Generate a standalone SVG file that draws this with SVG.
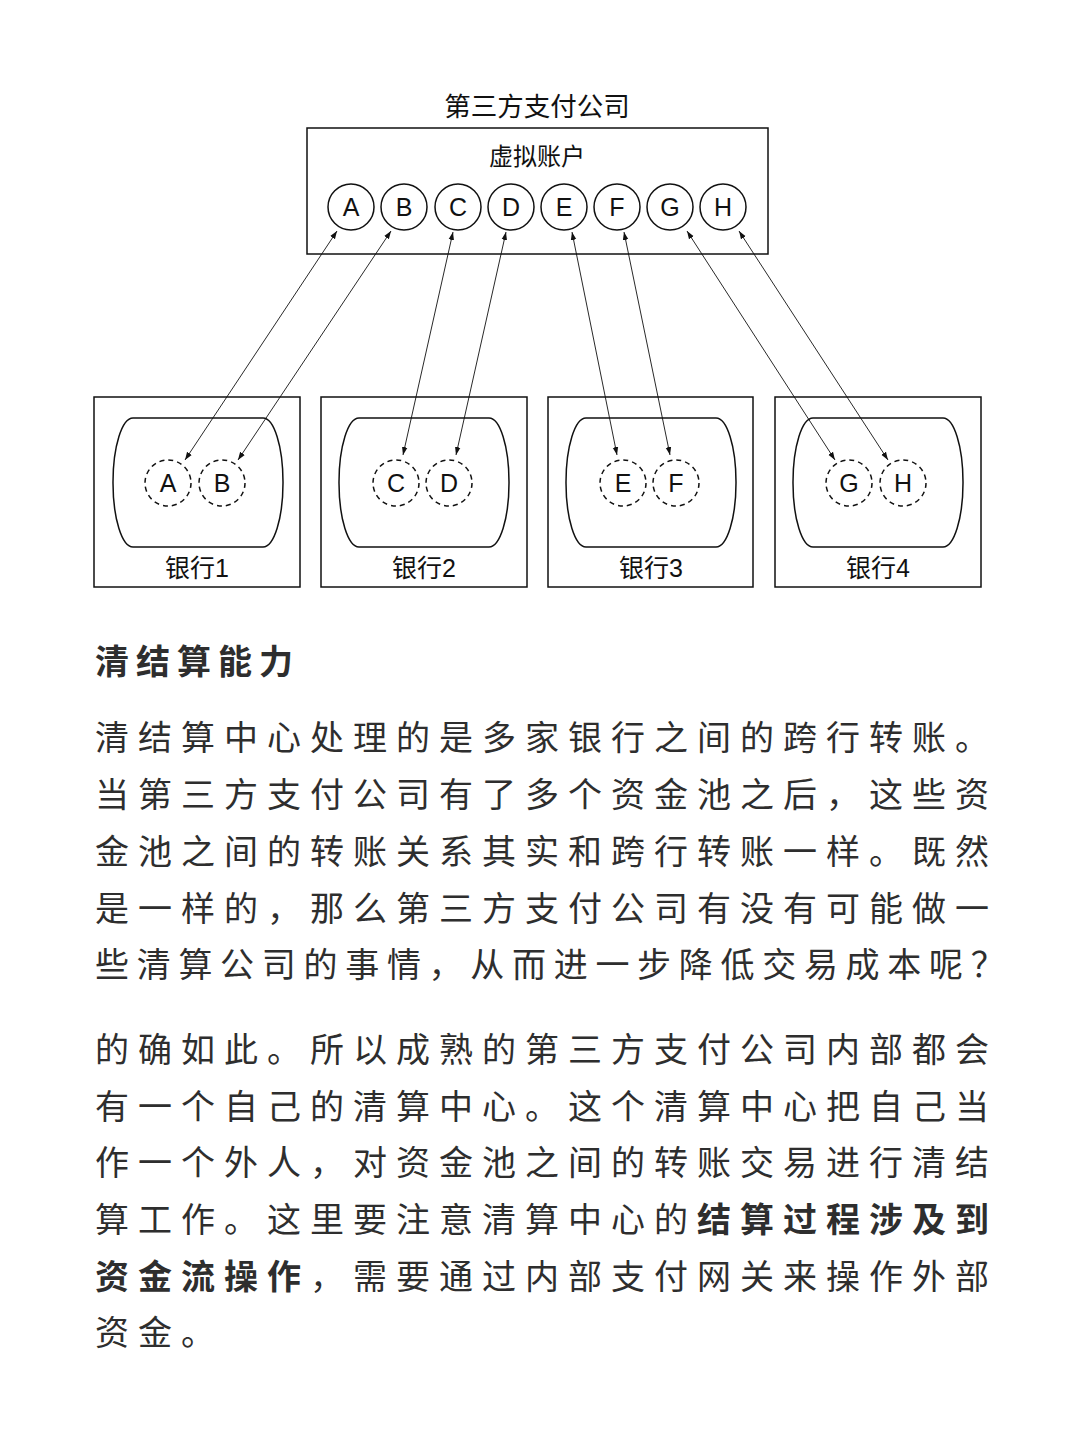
<svg xmlns="http://www.w3.org/2000/svg" width="1080" height="1435" viewBox="0 0 1080 1435">
<style>
.box{fill:none;stroke:#111;stroke-width:1.5}
.vc{fill:#fff;stroke:#111;stroke-width:1.5}
.dc{fill:none;stroke:#111;stroke-width:1.5;stroke-dasharray:5 4}
.dlabel{font-family:"Liberation Sans","Noto Sans CJK SC",sans-serif;fill:#111;text-anchor:middle}
.lt{font-size:25px}
.cn{font-size:24px}
.conn{stroke:#111;stroke-width:0.9;fill:none;marker-start:url(#ah);marker-end:url(#ah)}
.body{font-family:"Noto Sans CJK SC","Noto Sans CJK TC",sans-serif;font-size:34px;fill:#2e2e2e;letter-spacing:9px}
.b{font-weight:bold}
</style>
<defs>
<marker id="ah" viewBox="0 0 10 10" refX="10" refY="5" markerWidth="8" markerHeight="8" markerUnits="userSpaceOnUse" orient="auto-start-reverse">
<path d="M0,1.5 L10,5 L0,8.5 z" fill="#111"/>
</marker>
</defs>
<rect width="1080" height="1435" fill="#fff"/>

<g id="company">
<text class="dlabel" x="537" y="116" style="font-size:26.5px">第三方支付公司</text>
<rect class="box" x="307" y="128" width="461" height="126"/>
<text class="dlabel cn" x="537" y="165">虚拟账户</text>
</g>

<g id="virtual-accounts">
<g id="vA"><circle class="vc" cx="351" cy="207" r="23"/><text class="dlabel lt" x="351" y="216">A</text></g>
<g id="vB"><circle class="vc" cx="404" cy="207" r="23"/><text class="dlabel lt" x="404" y="216">B</text></g>
<g id="vC"><circle class="vc" cx="458" cy="207" r="23"/><text class="dlabel lt" x="458" y="216">C</text></g>
<g id="vD"><circle class="vc" cx="511" cy="207" r="23"/><text class="dlabel lt" x="511" y="216">D</text></g>
<g id="vE"><circle class="vc" cx="564" cy="207" r="23"/><text class="dlabel lt" x="564" y="216">E</text></g>
<g id="vF"><circle class="vc" cx="617" cy="207" r="23"/><text class="dlabel lt" x="617" y="216">F</text></g>
<g id="vG"><circle class="vc" cx="670" cy="207" r="23"/><text class="dlabel lt" x="670" y="216">G</text></g>
<g id="vH"><circle class="vc" cx="723" cy="207" r="23"/><text class="dlabel lt" x="723" y="216">H</text></g>
</g>

<g id="bank1">
<rect class="box" x="94" y="397" width="206" height="190"/>
<rect class="box" x="113" y="418" width="170" height="129" rx="20" ry="64"/>
<circle class="dc" cx="168" cy="483" r="23"/><text class="dlabel lt" x="168" y="492">A</text>
<circle class="dc" cx="222" cy="483" r="23"/><text class="dlabel lt" x="222" y="492">B</text>
<text class="dlabel" x="197" y="577" style="font-size:25px">银行1</text>
</g>
<g id="bank2">
<rect class="box" x="321" y="397" width="206" height="190"/>
<rect class="box" x="339" y="418" width="170" height="129" rx="20" ry="64"/>
<circle class="dc" cx="396" cy="483" r="23"/><text class="dlabel lt" x="396" y="492">C</text>
<circle class="dc" cx="449" cy="483" r="23"/><text class="dlabel lt" x="449" y="492">D</text>
<text class="dlabel" x="424" y="577" style="font-size:25px">银行2</text>
</g>
<g id="bank3">
<rect class="box" x="548" y="397" width="205" height="190"/>
<rect class="box" x="566" y="418" width="170" height="129" rx="20" ry="64"/>
<circle class="dc" cx="623" cy="483" r="23"/><text class="dlabel lt" x="623" y="492">E</text>
<circle class="dc" cx="676" cy="483" r="23"/><text class="dlabel lt" x="676" y="492">F</text>
<text class="dlabel" x="651" y="577" style="font-size:25px">银行3</text>
</g>
<g id="bank4">
<rect class="box" x="775" y="397" width="206" height="190"/>
<rect class="box" x="793" y="418" width="170" height="129" rx="20" ry="64"/>
<circle class="dc" cx="849" cy="483" r="23"/><text class="dlabel lt" x="849" y="492">G</text>
<circle class="dc" cx="903" cy="483" r="23"/><text class="dlabel lt" x="903" y="492">H</text>
<text class="dlabel" x="878" y="577" style="font-size:25px">银行4</text>
</g>

<g id="connectors">
<line class="conn" x1="337" y1="231" x2="185" y2="460"/>
<line class="conn" x1="391" y1="231" x2="238" y2="460"/>
<line class="conn" x1="453" y1="232" x2="403" y2="455"/>
<line class="conn" x1="506" y1="232" x2="456" y2="455"/>
<line class="conn" x1="572" y1="232" x2="617" y2="455"/>
<line class="conn" x1="624" y1="232" x2="670" y2="455"/>
<line class="conn" x1="687" y1="231" x2="835" y2="460"/>
<line class="conn" x1="739" y1="231" x2="888" y2="460"/>
</g>

<g id="article">
<text class="body b" x="95" y="674" style="letter-spacing:7px">清结算能力</text>
<text class="body" x="95" y="750">清结算中心处理的是多家银行之间的跨行转账。</text>
<text class="body" x="95" y="807">当第三方支付公司有了多个资金池之后，这些资</text>
<text class="body" x="95" y="864">金池之间的转账关系其实和跨行转账一样。既然</text>
<text class="body" x="95" y="921">是一样的，那么第三方支付公司有没有可能做一</text>
<text class="body" x="95" y="977" style="letter-spacing:7.7px">些清算公司的事情，从而进一步降低交易成本呢？</text>
<text class="body" x="95" y="1062">的确如此。所以成熟的第三方支付公司内部都会</text>
<text class="body" x="95" y="1119">有一个自己的清算中心。这个清算中心把自己当</text>
<text class="body" x="95" y="1175">作一个外人，对资金池之间的转账交易进行清结</text>
<text class="body" x="95" y="1232">算工作。这里要注意清算中心的<tspan class="b">结算过程涉及到</tspan></text>
<text class="body" x="95" y="1289"><tspan class="b">资金流操作</tspan>，需要通过内部支付网关来操作外部</text>
<text class="body" x="95" y="1345">资金。</text>
</g>
</svg>
